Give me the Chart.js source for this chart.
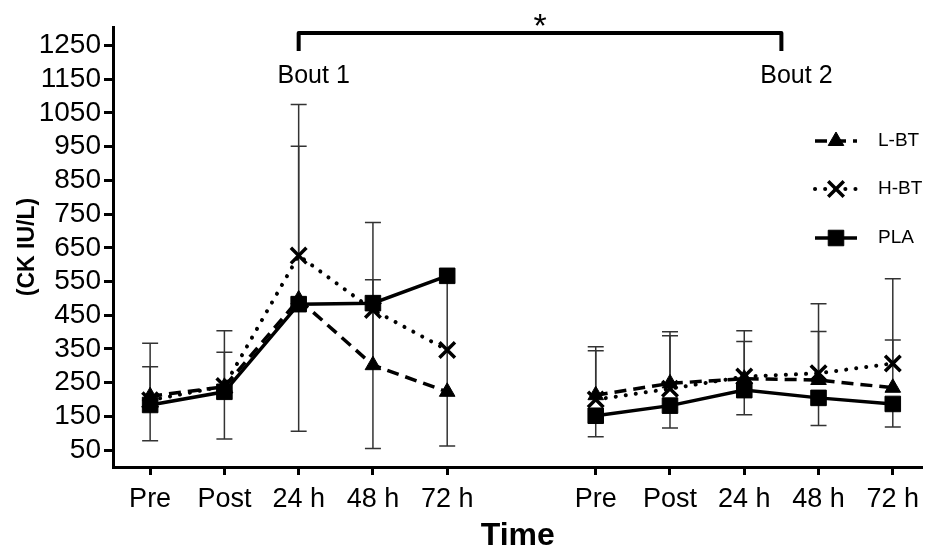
<!DOCTYPE html>
<html>
<head>
<meta charset="utf-8">
<script src="https://cdn.jsdelivr.net/npm/chart.js@4.4.1/dist/chart.umd.min.js"></script>
<style>
  html, body { margin: 0; padding: 0; background: #fff; overflow: hidden; }
  #wrap { width: 937px; height: 556px; position: relative; }
  canvas { display: block; }
</style>
</head>
<body>
<div id="wrap"><canvas id="ckChart"></canvas></div>
<script>
// Time points: bout 1 at 0-4, bout 2 at 6-10 (slot 5 left empty)
const xPos = [0, 1, 2, 3, 4, 6, 7, 8, 9, 10];
const timeLabels = ['Pre', 'Post', '24 h', '48 h', '72 h', 'Pre', 'Post', '24 h', '48 h', '72 h'];
const yTicks = [50, 150, 250, 350, 450, 550, 650, 750, 850, 950, 1050, 1150, 1250];

// Means (CK IU/L) and SD
const lbtMean = [210, 238, 497, 302, 223, 213, 248, 262, 258, 235];
const lbtSdUp = [87, 102, 454, 253, null, 132, 141, 110, 144, 142];

const hbtMean = [198, 240, 627, 466, 347, 200, 232, 268, 278, 307];
const hbtSdUp = [169, 164, 448, 259, null, 157, 169, 136, 206, 251];

const plaMean = [184, 223, 483, 486, 567, 152, 182, 228, 205, 187];
const plaSdDown = [106, 140, 377, 431, 505, 62, 66, 73, 82, 68];

// build {x, y} points with a null in slot 5 to break the line between bouts
function buildPoints(mean, up, down) {
    const pts = [];
    xPos.forEach((x, i) => {
        if (x === 6) pts.push({ x: 5, y: null });
        pts.push({
            x: x,
            y: mean[i],
            up: up ? up[i] : null,
            down: down ? down[i] : null
        });
    });
    return pts;
}

// Error bars drawn under the markers
const errorBarPlugin = {
    id: 'errorBars',
    beforeDatasetsDraw(chart) {
        const ctx = chart.ctx;
        const y = chart.scales.y;
        const capHalf = 8;
        ctx.save();
        ctx.strokeStyle = '#333';
        ctx.lineWidth = 1.5;
        chart.data.datasets.forEach((ds, di) => {
            const meta = chart.getDatasetMeta(di);
            ds.data.forEach((p, i) => {
                if (p.y === null) return;
                const px = meta.data[i].x;
                const py = y.getPixelForValue(p.y);
                [p.up != null ? p.y + p.up : null, p.down != null ? p.y - p.down : null].forEach(end => {
                    if (end === null) return;
                    const ey = y.getPixelForValue(end);
                    ctx.beginPath();
                    ctx.moveTo(px, py);
                    ctx.lineTo(px, ey);
                    ctx.moveTo(px - capHalf, ey);
                    ctx.lineTo(px + capHalf, ey);
                    ctx.stroke();
                });
            });
        });
        ctx.restore();
    }
};

// Bracket with asterisk and bout labels, plus the legend on the right
const annotationPlugin = {
    id: 'boutBracket',
    afterDraw(chart) {
        const ctx = chart.ctx;
        const x = chart.scales.x;
        const top = chart.chartArea.top;
        const left = x.getPixelForValue(2);
        const right = x.getPixelForValue(8.5);
        ctx.save();
        ctx.strokeStyle = '#000';
        ctx.lineWidth = 4;
        ctx.lineJoin = 'round';
        ctx.beginPath();
        ctx.moveTo(left, top + 24);
        ctx.lineTo(left, top + 6);
        ctx.lineTo(right, top + 6);
        ctx.lineTo(right, top + 24);
        ctx.stroke();

        ctx.fillStyle = '#000';
        ctx.textAlign = 'center';
        ctx.textBaseline = 'middle';
        ctx.font = '34px "Liberation Sans", Arial, sans-serif';
        ctx.fillText('*', (left + right) / 2, top + 1);
        ctx.font = '25px "Liberation Sans", Arial, sans-serif';
        ctx.fillText('Bout 1', left + 15, top + 49);
        ctx.fillText('Bout 2', right + 15, top + 49);

        // legend
        const rows = [141, 189, 238];
        const lx0 = 815, lx1 = 857, mx = 836, tx = 878;
        chart.data.datasets.forEach((ds, i) => {
            const ry = rows[i];
            ctx.save();
            ctx.strokeStyle = '#000';
            ctx.lineWidth = ds.borderWidth;
            ctx.lineCap = ds.borderCapStyle || 'butt';
            ctx.setLineDash(ds.borderDash || []);
            ctx.beginPath();
            ctx.moveTo(lx0, ry);
            ctx.lineTo(lx1, ry);
            ctx.stroke();
            ctx.restore();
            ctx.fillStyle = '#000';
            ctx.strokeStyle = '#000';
            ctx.lineWidth = ds.pointBorderWidth;
            Chart.helpers.drawPoint(ctx, {
                pointStyle: ds.pointStyle,
                radius: ds.pointRadius,
                rotation: 0,
                borderWidth: ds.pointBorderWidth
            }, mx, ry);
            ctx.fillStyle = '#000';
            ctx.textAlign = 'left';
            ctx.font = '19px "Liberation Sans", Arial, sans-serif';
            ctx.fillText(ds.label, tx, ry);
        });
        ctx.restore();
    }
};

const fontFamily = '"Liberation Sans", Arial, sans-serif';

new Chart(document.getElementById('ckChart'), {
    type: 'line',
    data: {
        datasets: [
            {
                label: 'L-BT',
                data: buildPoints(lbtMean, lbtSdUp, null),
                borderColor: '#000',
                backgroundColor: '#000',
                borderWidth: 3.5,
                borderDash: [12, 7],
                pointStyle: 'triangle',
                pointRadius: 9,
                pointBorderWidth: 1,
                order: 2
            },
            {
                label: 'H-BT',
                data: buildPoints(hbtMean, hbtSdUp, null),
                borderColor: '#000',
                backgroundColor: '#000',
                borderWidth: 4,
                borderDash: [0.1, 10],
                borderCapStyle: 'round',
                pointStyle: 'crossRot',
                pointRadius: 11,
                pointBorderWidth: 3.5,
                order: 1
            },
            {
                label: 'PLA',
                data: buildPoints(plaMean, null, plaSdDown),
                borderColor: '#000',
                backgroundColor: '#000',
                borderWidth: 3.5,
                pointStyle: 'rect',
                pointRadius: 11,
                pointBorderWidth: 1,
                order: 0
            }
        ]
    },
    options: {
        responsive: true,
        maintainAspectRatio: false,
        animation: false,
        spanGaps: false,
        layout: { padding: { top: 27, right: 0, bottom: 0, left: 0 } },
        plugins: {
            legend: { display: false },
            tooltip: { enabled: false }
        },
        scales: {
            x: {
                type: 'linear',
                min: -0.5,
                max: 10.4,
                afterBuildTicks: scale => {
                    scale.ticks = xPos.map(v => ({ value: v }));
                },
                afterFit: scale => {
                    scale.height = 89;
                    scale.paddingLeft = 0;
                    scale.paddingRight = 0;
                },
                ticks: {
                    autoSkip: false,
                    maxRotation: 0,
                    color: '#000',
                    padding: 8,
                    font: { family: fontFamily, size: 27 },
                    callback: value => timeLabels[xPos.indexOf(value)]
                },
                grid: {
                    display: true,
                    drawOnChartArea: false,
                    drawTicks: true,
                    tickLength: 8,
                    tickWidth: 3,
                    tickColor: '#000'
                },
                border: { display: true, color: '#000', width: 3 },
                title: {
                    display: true,
                    text: 'Time',
                    color: '#000',
                    padding: { top: 0, bottom: 1 },
                    font: { family: fontFamily, size: 32, weight: 'bold' }
                }
            },
            y: {
                min: 0,
                max: 1305,
                afterBuildTicks: scale => {
                    scale.ticks = yTicks.map(v => ({ value: v }));
                },
                afterFit: scale => { scale.width = 113; },
                ticks: {
                    autoSkip: false,
                    color: '#000',
                    padding: 3,
                    font: { family: fontFamily, size: 28 },
                    callback: value => String(value)
                },
                grid: {
                    display: true,
                    drawOnChartArea: false,
                    drawTicks: true,
                    tickLength: 9,
                    tickWidth: 3,
                    tickColor: '#000'
                },
                border: { display: true, color: '#000', width: 3 },
                title: {
                    display: true,
                    text: '(CK IU/L)',
                    color: '#000',
                    padding: { top: 14, bottom: 0 },
                    font: { family: fontFamily, size: 23, weight: 'bold' }
                }
            }
        }
    },
    plugins: [errorBarPlugin, annotationPlugin]
});
</script>
</body>
</html>
